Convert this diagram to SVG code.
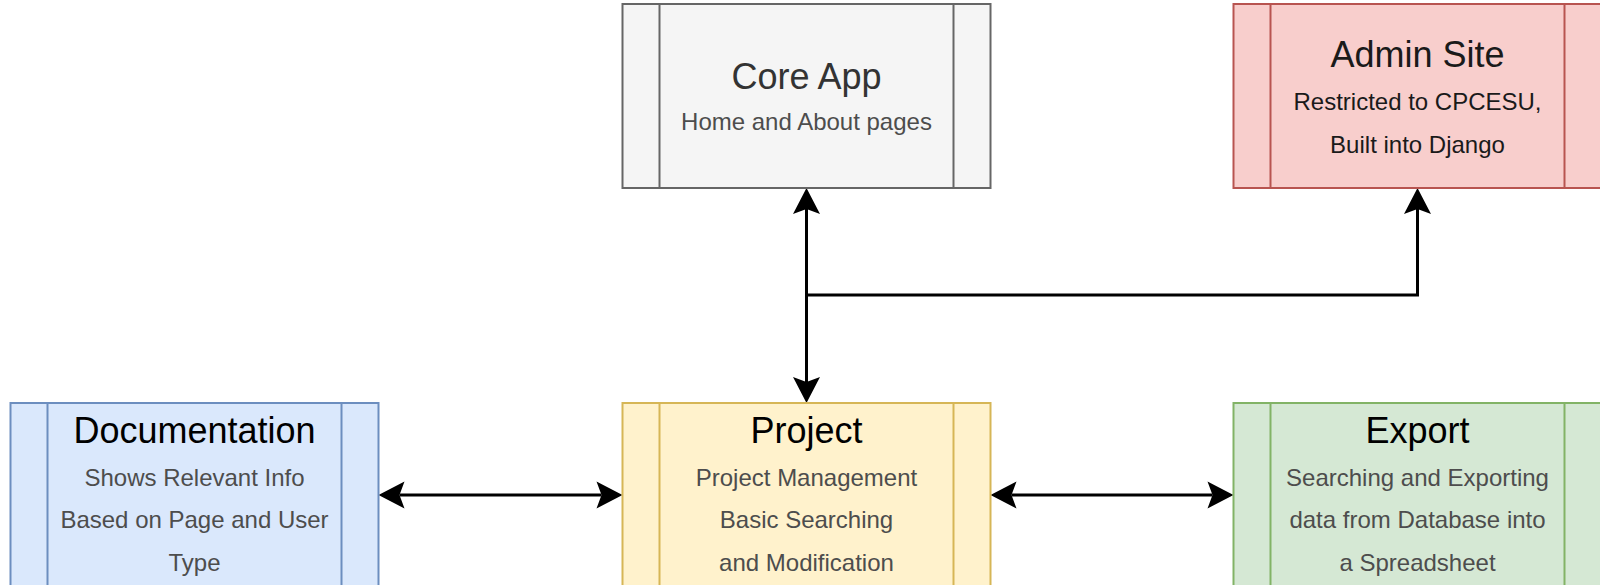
<svg xmlns="http://www.w3.org/2000/svg" width="1600" height="585" viewBox="0 0 1600 585">
  <style>
    .box { stroke-width: 2; }
    .t { font-family: "Liberation Sans", Arial, sans-serif; text-anchor: middle; }
    .title { font-size: 36px; fill: #000000; }
    .sub { font-size: 24px; fill: #4d4d4d; }
    .conn { fill: none; stroke: #000000; stroke-width: 3; }
    .gray rect, .gray line { fill: #f5f5f5; stroke: #666666; }
    .red rect, .red line { fill: #f8cecc; stroke: #b85450; }
    .blue rect, .blue line { fill: #dae8fc; stroke: #6c8ebf; }
    .yellow rect, .yellow line { fill: #fff2cc; stroke: #d6b656; }
    .green rect, .green line { fill: #d5e8d4; stroke: #82b366; }
  </style>
  <defs>
    <marker id="arr" markerUnits="userSpaceOnUse" markerWidth="60" markerHeight="60" refX="0" refY="0" orient="auto-start-reverse" overflow="visible" viewBox="-30 -30 60 60">
      <path d="M21,0 L-5,-13.5 L0,0 L-5,13.5 Z" fill="#000000"/>
    </marker>
  </defs>

  <g id="connectors">
    <path class="conn" d="M806.5,209 V382" marker-start="url(#arr)" marker-end="url(#arr)"/>
    <path class="conn" d="M806.5,295 H1417.5 V209" marker-end="url(#arr)"/>
    <path class="conn" d="M399.5,495 H601.5" marker-start="url(#arr)" marker-end="url(#arr)"/>
    <path class="conn" d="M1011.5,495 H1212.5" marker-start="url(#arr)" marker-end="url(#arr)"/>
  </g>

  <g id="core-app" class="gray">
    <rect class="box" x="622.5" y="4" width="368" height="184"/>
    <line class="box" x1="659.5" y1="4" x2="659.5" y2="188"/>
    <line class="box" x1="953.5" y1="4" x2="953.5" y2="188"/>
    <text class="t title" x="806.5" y="89" style="fill:#333333">Core App</text>
    <text class="t sub" x="806.5" y="130">Home and About pages</text>
  </g>

  <g id="admin-site" class="red">
    <rect class="box" x="1233.5" y="4" width="368" height="184"/>
    <line class="box" x1="1270.5" y1="4" x2="1270.5" y2="188"/>
    <line class="box" x1="1564.5" y1="4" x2="1564.5" y2="188"/>
    <text class="t title" x="1417.5" y="67" style="fill:#1a1a1a">Admin Site</text>
    <text class="t sub" x="1417.5" y="110" style="fill:#1a1a1a">Restricted to CPCESU,</text>
    <text class="t sub" x="1417.5" y="153" style="fill:#1a1a1a">Built into Django</text>
  </g>

  <g id="documentation" class="blue">
    <rect class="box" x="10.5" y="403" width="368" height="184"/>
    <line class="box" x1="47.5" y1="403" x2="47.5" y2="587"/>
    <line class="box" x1="341.5" y1="403" x2="341.5" y2="587"/>
    <text class="t title" x="194.5" y="443">Documentation</text>
    <text class="t sub" x="194.5" y="486">Shows Relevant Info</text>
    <text class="t sub" x="194.5" y="528">Based on Page and User</text>
    <text class="t sub" x="194.5" y="571">Type</text>
  </g>

  <g id="project" class="yellow">
    <rect class="box" x="622.5" y="403" width="368" height="184"/>
    <line class="box" x1="659.5" y1="403" x2="659.5" y2="587"/>
    <line class="box" x1="953.5" y1="403" x2="953.5" y2="587"/>
    <text class="t title" x="806.5" y="443">Project</text>
    <text class="t sub" x="806.5" y="486">Project Management</text>
    <text class="t sub" x="806.5" y="528">Basic Searching</text>
    <text class="t sub" x="806.5" y="571">and Modification</text>
  </g>

  <g id="export" class="green">
    <rect class="box" x="1233.5" y="403" width="368" height="184"/>
    <line class="box" x1="1270.5" y1="403" x2="1270.5" y2="587"/>
    <line class="box" x1="1564.5" y1="403" x2="1564.5" y2="587"/>
    <text class="t title" x="1417.5" y="443">Export</text>
    <text class="t sub" x="1417.5" y="486">Searching and Exporting</text>
    <text class="t sub" x="1417.5" y="528">data from Database into</text>
    <text class="t sub" x="1417.5" y="571">a Spreadsheet</text>
  </g>
</svg>
